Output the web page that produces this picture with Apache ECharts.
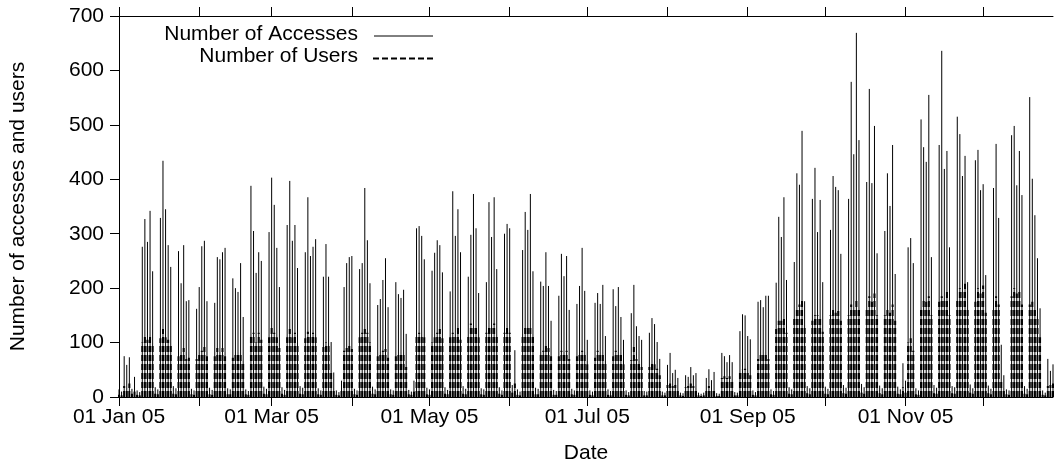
<!DOCTYPE html>
<html>
<head>
<meta charset="utf-8">
<script src="https://cdn.jsdelivr.net/npm/echarts@6/dist/echarts.min.js"></script>
<style>
  html, body { margin: 0; padding: 0; background: #fff; }
  #chart { width: 1055px; height: 470px; }
</style>
</head>
<body>
<div id="chart"></div>
<script>
// one value per day, starting Sat 01 Jan 2005; rows are Mon..Sun weeks
var accesses = [
  14, 10,
  75, 59, 73, 15, 37, 12, 9,
  276, 327, 285, 342, 231, 18, 14,
  329, 434, 345, 279, 239, 20, 16,
  268, 209, 279, 176, 178, 15, 12,
  162, 202, 277, 287, 176, 17, 13,
  173, 257, 253, 266, 274, 16, 14,
  218, 200, 193, 246, 147, 14, 11,
  388, 305, 228, 266, 250, 19, 15,
  303, 403, 353, 274, 202, 18, 13,
  316, 397, 287, 316, 237, 20, 17,
  266, 367, 259, 276, 290, 16, 12,
  221, 281, 221, 101, 45, 12, 9,
  30, 202, 246, 257, 259, 15, 12,
  235, 246, 384, 288, 209, 19, 14,
  169, 180, 215, 255, 165, 14, 12,
  211, 189, 182, 197, 116, 13, 10,
  30, 310, 314, 296, 253, 17, 14,
  232, 265, 288, 279, 229, 18, 13,
  194, 378, 296, 345, 266, 20, 15,
  221, 298, 373, 310, 191, 16, 14,
  211, 358, 294, 367, 235, 18, 12,
  300, 318, 310, 22, 86, 14, 10,
  270, 340, 307, 373, 231, 17, 15,
  212, 204, 266, 204, 140, 13, 11,
  186, 263, 222, 259, 160, 15, 12,
  171, 204, 274, 195, 105, 12, 10,
  173, 191, 171, 206, 112, 14, 11,
  198, 167, 202, 147, 105, 12, 9,
  154, 206, 130, 112, 105, 11, 10,
  118, 145, 134, 101, 70, 10, 8,
  59, 81, 44, 50, 35, 8, 7,
  40, 37, 55, 40, 44, 8, 6,
  8, 35, 51, 31, 46, 7, 6,
  81, 75, 64, 77, 64, 9, 8,
  121, 152, 150, 112, 106, 12, 9,
  175, 178, 165, 186, 186, 14, 11,
  210, 331, 294, 367, 215, 18, 14,
  248, 411, 390, 489, 176, 20, 16,
  364, 421, 303, 362, 211, 19, 15,
  307, 406, 386, 380, 263, 22, 17,
  364, 579, 446, 669, 472, 24, 18,
  395, 566, 393, 498, 264, 21, 16,
  305, 411, 351, 463, 226, 19, 14,
  62, 30, 275, 292, 246, 16, 12,
  510, 459, 432, 555, 257, 22, 17,
  463, 636, 419, 452, 275, 20, 18,
  515, 483, 406, 443, 211, 23, 16,
  435, 454, 380, 391, 224, 21, 15,
  384, 465, 329, 96, 40, 14, 12,
  481, 498, 389, 452, 371, 20, 15,
  551, 401, 334, 255, 163, 12, 8,
  70, 48, 60
];
var users = [
  4, 3,
  20, 15, 25, 6, 10, 4, 3,
  100, 115, 105, 115, 95, 6, 5,
  108, 125, 110, 105, 95, 6, 5,
  75, 80, 90, 70, 72, 5, 4,
  70, 78, 85, 92, 75, 5, 4,
  75, 90, 80, 90, 75, 5, 5,
  72, 78, 78, 80, 65, 5, 4,
  115, 118, 100, 118, 105, 6, 5,
  110, 128, 118, 110, 90, 6, 4,
  110, 125, 110, 118, 95, 6, 5,
  108, 120, 112, 118, 110, 5, 4,
  92, 100, 95, 45, 15, 4, 3,
  12, 85, 90, 95, 88, 5, 4,
  110, 118, 125, 118, 100, 6, 5,
  75, 80, 85, 88, 72, 5, 4,
  75, 80, 82, 80, 55, 5, 4,
  10, 115, 118, 115, 110, 5, 4,
  100, 110, 118, 125, 108, 6, 5,
  110, 118, 115, 128, 105, 6, 5,
  115, 135, 130, 128, 110, 5, 4,
  118, 132, 128, 135, 112, 6, 4,
  118, 128, 118, 8, 25, 4, 3,
  115, 128, 130, 132, 112, 5, 5,
  80, 85, 95, 90, 75, 4, 4,
  75, 85, 82, 85, 70, 5, 4,
  75, 80, 85, 80, 60, 4, 3,
  72, 85, 78, 80, 62, 4, 3,
  75, 85, 80, 78, 60, 4, 3,
  68, 92, 70, 65, 55, 3, 3,
  55, 62, 60, 52, 40, 3, 3,
  22, 25, 20, 22, 15, 3, 2,
  18, 20, 25, 20, 15, 3, 2,
  3, 15, 20, 15, 15, 2, 2,
  35, 38, 35, 38, 30, 3, 3,
  45, 50, 52, 45, 40, 4, 3,
  70, 78, 78, 78, 70, 5, 4,
  125, 140, 140, 145, 118, 6, 5,
  145, 160, 170, 178, 130, 7, 5,
  140, 150, 150, 148, 120, 6, 5,
  150, 160, 155, 158, 140, 7, 6,
  150, 170, 165, 178, 160, 8, 6,
  165, 185, 175, 190, 150, 7, 5,
  150, 165, 155, 170, 140, 6, 5,
  18, 8, 100, 108, 85, 5, 4,
  165, 180, 175, 185, 150, 7, 6,
  175, 185, 180, 195, 150, 7, 6,
  180, 200, 195, 208, 160, 8, 6,
  175, 200, 190, 205, 155, 7, 5,
  165, 185, 170, 30, 15, 5, 4,
  185, 200, 190, 195, 170, 6, 5,
  170, 175, 160, 145, 110, 4, 3,
  20, 22, 25
];
// day offsets of the first of each month, and the tick texts
var monthStarts = [0, 31, 59, 90, 120, 151, 181, 212, 243, 273, 304, 334];
var monthLabels = ['01 Jan 05', '01 Feb 05', '01 Mar 05', '01 Apr 05', '01 May 05', '01 Jun 05',
                   '01 Jul 05', '01 Aug 05', '01 Sep 05', '01 Oct 05', '01 Nov 05', '01 Dec 05'];
var labelledMonths = [0, 59, 120, 181, 243, 304];
var lastDay = 361;

var FONT = '"Liberation Sans", Arial, Helvetica, sans-serif';
var FS = 21;

function impulse(width, dash) {
    return function (params, api) {
        var p0 = api.coord([api.value(0), 0]);
        var p1 = api.coord([api.value(0), api.value(1)]);
        return {
            type: 'line',
            shape: { x1: p0[0], y1: p0[1], x2: p1[0], y2: p1[1] },
            style: { stroke: '#000', lineWidth: width, lineDash: dash }
        };
    };
}

var chart = echarts.init(document.getElementById('chart'), null, { renderer: 'canvas' });
var option = {
    animation: false,
    backgroundColor: '#fff',
    textStyle: { fontFamily: FONT },
    grid: { left: 118, right: 2, top: 16, bottom: 73 },
    xAxis: [
        {
            type: 'value', min: 0, max: lastDay, position: 'bottom',
            name: 'Date', nameLocation: 'middle', nameGap: 46,
            nameTextStyle: { color: '#000', fontSize: FS, fontFamily: FONT },
            axisLine: { lineStyle: { color: '#000', width: 1 } },
            axisTick: { inside: false, length: 9, customValues: monthStarts, lineStyle: { color: '#000' } },
            axisLabel: {
                customValues: labelledMonths, margin: 10, color: '#000', fontSize: FS, fontFamily: FONT,
                formatter: function (v) { return monthLabels[monthStarts.indexOf(v)]; }
            },
            splitLine: { show: false }
        },
        {
            type: 'value', min: 0, max: lastDay, position: 'top',
            axisLine: { lineStyle: { color: '#000', width: 1 } },
            axisTick: { inside: false, length: 9, customValues: monthStarts, lineStyle: { color: '#000' } },
            axisLabel: { show: false },
            splitLine: { show: false }
        }
    ],
    yAxis: {
        type: 'value', min: 0, max: 700, interval: 100,
        name: 'Number of accesses and users', nameLocation: 'middle', nameGap: 90,
        nameTextStyle: { color: '#000', fontSize: FS, fontFamily: FONT },
        axisLine: { show: true, lineStyle: { color: '#000', width: 1 } },
        axisTick: { show: true, inside: false, length: 9, lineStyle: { color: '#000' } },
        axisLabel: { margin: 15, color: '#000', fontSize: FS, fontFamily: FONT },
        splitLine: { show: false }
    },
    series: [
        {
            name: 'Number of Accesses', type: 'custom', xAxisIndex: 0,
            renderItem: impulse(1, null),
            encode: { x: 0, y: 1 },
            data: accesses.map(function (v, i) { return [i, v]; }),
            z: 2
        },
        {
            name: 'Number of Users', type: 'custom', xAxisIndex: 0,
            renderItem: impulse(2, [6, 3]),
            encode: { x: 0, y: 1 },
            data: users.map(function (v, i) { return [i, v]; }),
            z: 3
        }
    ],
    graphic: [
        { type: 'text', right: 1055 - 358, top: 24,
          style: { text: 'Number of Accesses', font: FS + 'px ' + FONT, fill: '#000', textAlign: 'right' } },
        { type: 'text', right: 1055 - 358, top: 46,
          style: { text: 'Number of Users', font: FS + 'px ' + FONT, fill: '#000', textAlign: 'right' } },
        { type: 'line', shape: { x1: 374, y1: 36, x2: 433, y2: 36 },
          style: { stroke: '#000', lineWidth: 1 } },
        { type: 'line', shape: { x1: 373, y1: 58.5, x2: 433, y2: 58.5 },
          style: { stroke: '#000', lineWidth: 2, lineDash: [6, 3] } }
    ]
};
chart.setOption(option);
</script>
</body>
</html>
